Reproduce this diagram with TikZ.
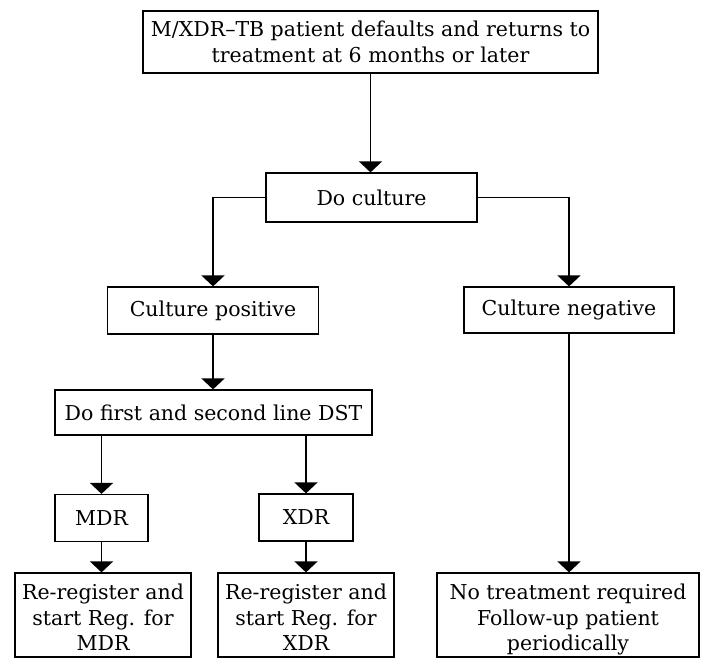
\documentclass[tikz,border=0pt]{standalone}
\usepackage{fontspec}
\setmainfont{DejaVu Serif}
\usetikzlibrary{arrows.meta}
\tikzset{
  box/.style={draw=black, line width=1.2pt, inner sep=0pt, align=center,
    font=\fontsize{20.5}{25.5}\selectfont},
  arr/.style={line width=1.6pt, -{Triangle[width=23pt,length=11pt]}},
}
\newcommand{\lowbox}[2]{\parbox[c][84pt][t]{#1}{\centering\vspace*{11pt}#2}}
\begin{document}
\begin{tikzpicture}[x=1pt,y=-1pt]
\useasboundingbox (0,0) rectangle (705,658);
\node[box, minimum width=455pt, minimum height=62pt] (top) at (370.5,42)
  {M/XDR--TB patient defaults and returns to\\treatment at 6 months or later};
\node[box, minimum width=211pt, minimum height=49pt] (cult) at (371.5,197.5) {Do culture};
\node[box, minimum width=211pt, minimum height=47pt] (pos) at (213,310.5) {Culture positive};
\node[box, minimum width=210pt, minimum height=46pt] (neg) at (569,310) {Culture negative};
\node[box, minimum width=317pt, minimum height=45pt] (dst) at (213.5,412.5) {Do first and second line DST};
\node[box, minimum width=93pt, minimum height=47pt] (mdr) at (101.5,518) {MDR};
\node[box, minimum width=94pt, minimum height=47pt] (xdr) at (306,517.5) {XDR};
\node[box] (reg1) at (103,615) {\lowbox{176pt}{Re-register and\\start Reg. for\\MDR}};
\node[box] (reg2) at (306,615) {\lowbox{176pt}{Re-register and\\start Reg. for\\XDR}};
\node[box] (none) at (568,615) {\lowbox{262pt}{No treatment required\\Follow-up patient\\periodically}};
\draw[arr] (top.south) -- (top.south |- cult.north);
\draw[arr] (cult.west) -| (pos.north);
\draw[arr] (cult.east) -| (neg.north);
\draw[arr] (pos.south) -- (pos.south |- dst.north);
\draw[arr] (mdr.north |- dst.south) -- (mdr.north);
\draw[arr] (xdr.north |- dst.south) -- (xdr.north);
\draw[arr] (mdr.south) -- (mdr.south |- reg1.north);
\draw[arr] (xdr.south) -- (xdr.south |- reg2.north);
\draw[arr] (neg.south) -- (neg.south |- none.north);
\end{tikzpicture}
\end{document}
